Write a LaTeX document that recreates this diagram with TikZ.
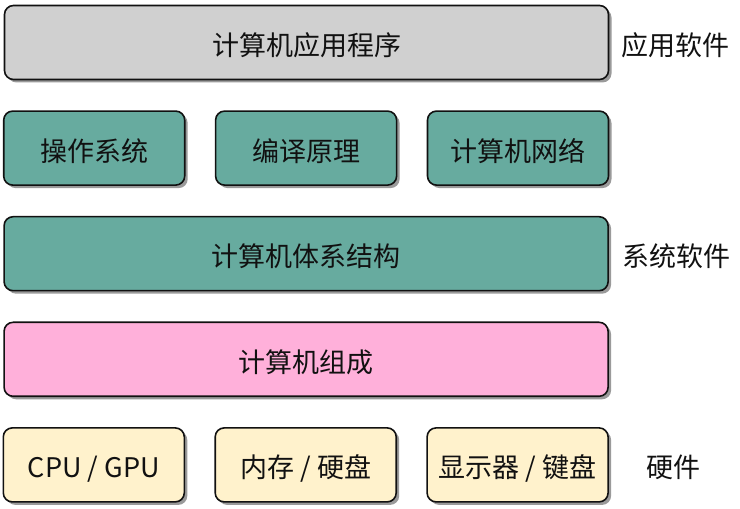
\documentclass[tikz,border=0pt]{standalone}
\usepackage{fontspec}
\setmainfont{Noto Sans CJK SC}
\usetikzlibrary{positioning,shadows}
\definecolor{Ink}{HTML}{111111}
\definecolor{Soft}{HTML}{D0D0D0}
\definecolor{Teal}{HTML}{67AB9F}
\definecolor{Pink}{HTML}{FFB0DA}
\definecolor{Cream}{HTML}{FFF2CC}
\definecolor{Shade}{HTML}{9A9A9A}
\tikzset{
  layer/.style={draw=Ink, fill=#1, line width=1.6pt, rounded corners=9pt, minimum height=74pt, inner sep=0pt,
    text height=26pt, text depth=0pt, text=Ink, font=\fontsize{27}{30}\selectfont,
    drop shadow={shadow xshift=3pt, shadow yshift=-3pt, fill=Shade, opacity=1}},
  wide/.style={layer=#1, minimum width=604pt},
  part/.style={layer=#1, minimum width=181pt},
  tag/.style={text=Ink, text height=26pt, text depth=0pt, font=\fontsize{27}{30}\selectfont, inner sep=0pt}
}
\begin{document}
\begin{tikzpicture}[x=1pt, y=1pt]
  \useasboundingbox (0,0) rectangle (740,509);
  \node[wide=Soft] (app) at (306.5,466.5) {计算机应用程序};
  \node[part=Teal, below right=30pt and -0.8pt of app.south west] (os) {操作系统};
  \node[part=Teal, right=29.3pt of os] (comp) {编译原理};
  \node[part=Teal, right=29.3pt of comp] (net) {计算机网络};
  \node[wide=Teal, below=30pt of comp] (arch) {计算机体系结构};
  \node[wide=Pink, below=30pt of arch] (org) {计算机组成};
  \node[part=Cream, below right=30pt and -0.8pt of org.south west] (cpu) {CPU / GPU};
  \node[part=Cream, right=29.3pt of cpu] (mem) {内存 / 硬盘};
  \node[part=Cream, right=29.3pt of mem] (io) {显示器 / 键盘};
  % side labels
  \node[tag, right=12pt of app] (appsw) {应用软件};
  \node[tag, right=13pt of arch] (syssw) {系统软件};
  \node[tag, right=37pt of io] (hw) {硬件};
\end{tikzpicture}
\end{document}
